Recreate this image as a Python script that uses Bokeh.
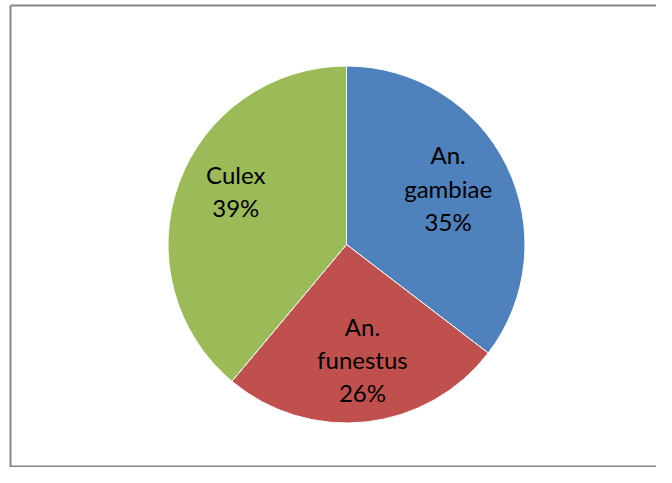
import math
from bokeh.plotting import figure
from bokeh.models import Range1d, ColumnDataSource
from bokeh.core.properties import value
from bokeh.embed import file_html
from bokeh.resources import INLINE

categories = ["An.\ngambiae", "An.\nfunestus", "Culex"]
shares = [35.4, 25.7, 38.9]
colors = ["#4F81BD", "#C0504D", "#9BBB59"]

W, H = 656, 467
p = figure(width=W, height=H, output_backend="svg", toolbar_location=None,
           x_range=Range1d(0, W), y_range=Range1d(0, H), min_border=0)
p.axis.visible = False
p.grid.visible = False
p.outline_line_color = None
p.background_fill_color = "white"
p.border_fill_color = "white"

cx, cy, R = 346, 223, 178.5
# small screen nudges of each label (layout only)
nudge = [(-4, 4), (3, 2), (0, 13)]
total = sum(shares)
starts, ends, lx, ly, labels = [], [], [], [], []
a = math.pi / 2
for c, s, (nx, ny) in zip(categories, shares, nudge):
    sweep = 2 * math.pi * s / total
    starts.append(a - sweep)
    ends.append(a)
    mid = a - sweep / 2
    lx.append(cx + 0.66 * R * math.cos(mid) + nx)
    ly.append(cy + 0.66 * R * math.sin(mid) + ny)
    labels.append(f"{c}\n{round(100 * s / total)}%")
    a -= sweep

src = ColumnDataSource(dict(start=starts, end=ends, color=colors, lx=lx, ly=ly, label=labels))
p.wedge(x=cx, y=cy, radius=R, radius_units="screen", start_angle="start", end_angle="end",
        fill_color="color", line_color="white", line_width=1, source=src)
p.text(x="lx", y="ly", text="label", source=src, text_align="center", text_baseline="middle",
       text_font=value("Lato"), text_font_size="24px", text_color="#000000", text_line_height=1.15)

# chart area border (left, top, bottom)
p.line(x=[10, 10], y=[0, H - 5], line_color="#868686", line_width=2)
p.line(x=[10, W], y=[H - 5, H - 5], line_color="#868686", line_width=2)
p.line(x=[10, W], y=[1, 1], line_color="#868686", line_width=2)

open("out.html", "w").write(file_html(p, INLINE))
